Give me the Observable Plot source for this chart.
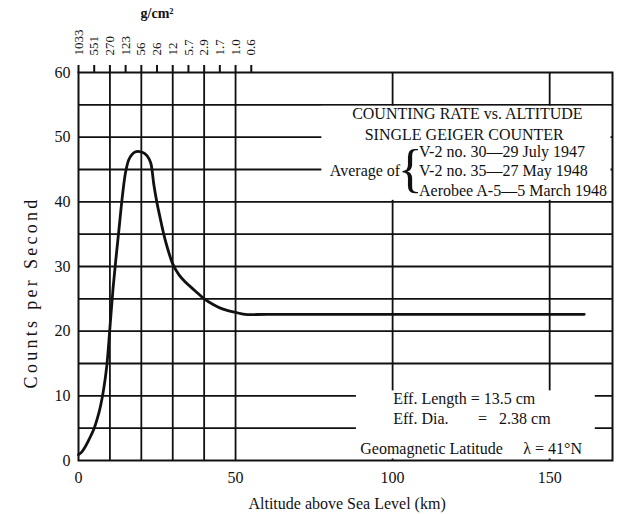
<!DOCTYPE html>
<html><head><meta charset="utf-8">
<script src="https://cdn.jsdelivr.net/npm/d3@7"></script>
<script src="https://cdn.jsdelivr.net/npm/@observablehq/plot@0.6"></script>
<style>
html,body{margin:0;padding:0;background:#fff;}
svg{display:block;}
.ylab text{letter-spacing:3.3px;}
</style></head><body><div id="chart"></div>
<script>
// Counting rate vs altitude (average of three rocket flights)
const altitudeKm = [0, 1, 2, 3, 4, 5, 6, 7, 8, 9, 10, 11, 12, 13, 14, 15, 16, 17, 18, 19, 20, 21, 22, 23, 24, 25, 26, 27, 28, 30, 32, 34, 37, 40, 43, 46, 50, 53, 60, 100, 161];
const countsPerSecond = [0.9, 1.3, 2.0, 2.9, 3.9, 5.0, 6.5, 8.4, 11.0, 14.6, 20.5, 26.6, 31.6, 36.3, 41.0, 44.6, 46.5, 47.3, 47.7, 47.8, 47.7, 47.5, 47.0, 46.0, 42.6, 39.8, 37.5, 35.3, 33.4, 30.4, 28.7, 27.6, 26.3, 25.0, 24.1, 23.4, 22.9, 22.6, 22.6, 22.6, 22.6];

const bottomTicks = [0, 50, 100, 150];
const leftTicks = [0, 10, 20, 30, 40, 50, 60];
const topTicksKm = [0, 5, 10, 15, 20, 25, 30, 35, 40, 45, 50, 55];
const topTickLabels = ["1033", "551", "270", "123", "56", "26", "12", "5.7", "2.9", "1.7", "1.0", "0.6"];
const hGridLevels = [5, 10, 15, 20, 25, 30, 35, 40, 45, 50, 55];
const vGridLevels = [10, 20, 30, 40, 50, 100, 150];
const titleLines = ["COUNTING RATE vs. ALTITUDE", "SINGLE GEIGER COUNTER"];
const flights = ["V-2 no. 30—29 July 1947", "V-2 no. 35—27 May 1948", "Aerobee A-5—5 March 1948"];

const curve = altitudeKm.map((a, i) => ({altitude: a, counts: countsPerSecond[i]}));

const titleY = [53.6, 50.4];
const titleX = [123.8, 122.8];
const flightY = [47.7, 44.8, 41.7];

const chart = Plot.plot({
  width: 624,
  height: 514,
  marginLeft: 78,
  marginRight: 12,
  marginTop: 72,
  marginBottom: 54,
  style: {fontFamily: "'Liberation Serif', 'Times New Roman', serif", fontSize: "16px", color: "#111", background: "#fff"},
  x: {domain: [0, 170]},
  y: {domain: [0, 60]},
  marks: [
    Plot.ruleY(hGridLevels, {stroke: "#111", strokeWidth: 1.8}),
    Plot.ruleX(vGridLevels, {stroke: "#111", strokeWidth: 1.8}),
    // blank panels behind the annotation text
    Plot.rect([{x1: 77, x2: 170, y1: 40, y2: 55}, {x1: 88, x2: 165, y1: 0, y2: 11}], {x1: "x1", x2: "x2", y1: "y1", y2: "y2", fill: "#fff", inset: 1.5}),
    Plot.frame({stroke: "#111", strokeWidth: 2}),
    Plot.line(curve, {x: "altitude", y: "counts", stroke: "#111", strokeWidth: 2.8, curve: "catmull-rom"}),
    Plot.axisX({anchor: "top", ticks: topTicksKm, tickFormat: (d, i) => topTickLabels[i], tickRotate: -90, tickSize: 8, tickPadding: 9, fontSize: 13, label: null, strokeWidth: 2}),
    Plot.axisX({anchor: "bottom", ticks: bottomTicks, tickSize: 0, tickPadding: 11, fontSize: 16, label: null}),
    Plot.axisY({anchor: "left", ticks: leftTicks, tickSize: 0, tickPadding: 8, fontSize: 16, label: null}),
    Plot.text(["g/cm²"], {x: 25, y: 60, dy: -59, text: d => d, fontSize: 14, fontWeight: "bold"}),
    Plot.text(["Altitude above Sea Level (km)"], {x: 85.5, y: 0, dy: 43, text: d => d, fontSize: 16}),
    Plot.text(["Counts per Second"], {x: 0, y: 26, dx: -47, rotate: -90, text: d => d, fontSize: 18, className: "ylab"}),
    Plot.text(titleLines, {x: (d, i) => titleX[i], y: (d, i) => titleY[i], text: d => d, fontSize: 16}),
    Plot.text(["Average of"], {x: 102.4, y: 44.8, text: d => d, textAnchor: "end", fontSize: 16}),
    Plot.text(["{"], {x: 105.6, y: 44.8, dy: -1, text: d => d, fontSize: 52, fontWeight: "normal"}),
    Plot.text(flights, {x: 108.4, y: (d, i) => flightY[i], text: d => d, textAnchor: "start", fontSize: 16}),
    Plot.text(["Eff. Length = 13.5 cm"], {x: 100.2, y: 9.6, text: d => d, textAnchor: "start", fontSize: 16}),
    Plot.text(["Eff. Dia."], {x: 100.2, y: 6.5, text: d => d, textAnchor: "start", fontSize: 16}),
    Plot.text(["=\u00a0\u00a0\u00a02.38 cm"], {x: 127.2, y: 6.5, text: d => d, textAnchor: "start", fontSize: 16}),
    Plot.text(["Geomagnetic Latitude"], {x: 89.7, y: 1.85, text: d => d, textAnchor: "start", fontSize: 16}),
    Plot.text(["λ = 41°N"], {x: 141.6, y: 1.85, text: d => d, textAnchor: "start", fontSize: 16})
  ]
});
document.getElementById("chart").append(chart);
</script>
</body></html>
